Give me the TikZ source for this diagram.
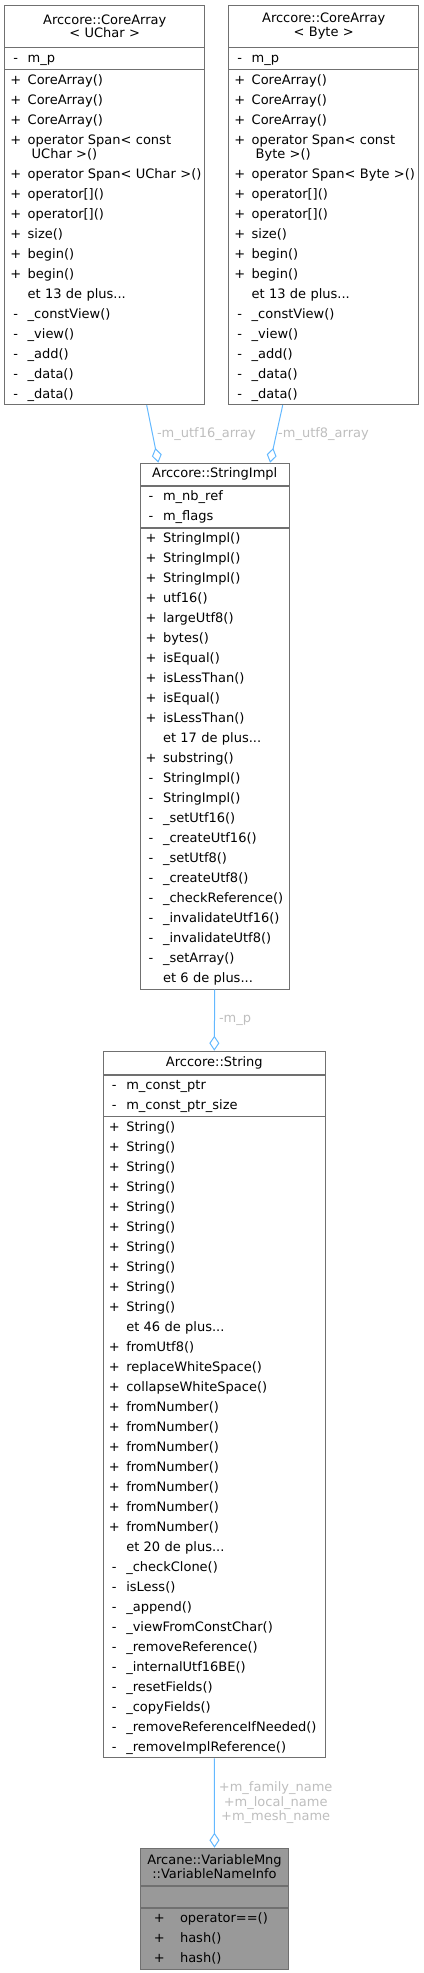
\documentclass[tikz,border=0pt]{standalone}
\usepackage{fontspec}
\setmainfont{DejaVu Sans}
\usetikzlibrary{arrows.meta,positioning}
\definecolor{edgeblue}{HTML}{63B8FF}
\definecolor{lblgray}{HTML}{BEBEBE}
\definecolor{linegray}{HTML}{707070}
\definecolor{fillgray}{HTML}{999999}
\setlength{\parindent}{0pt}
\hfuzz=20pt \hbadness=10000
% one member line: sign column, then name
\newcommand{\mrow}[2]{\makebox[17.25pt][l]{\hspace*{4.5pt}\makebox[7.5pt]{#1}}\mbox{#2}\strut}
\newcommand{\mtab}[2]{\makebox[29.5pt][l]{\hspace*{10.5pt}\makebox[7pt]{#1}}\mbox{#2}\strut}
\newcommand{\mcont}[1]{\hspace*{20.25pt}\mbox{#1}\strut}

\begin{document}
\begin{tikzpicture}[
  x=0.75pt, y=-0.75pt,
  hd/.style={draw=linegray, line width=0.6pt, fill=white, inner xsep=0pt,
    inner ysep=0pt, align=center, minimum height=#1, font=\fontsize{9.75}{10}\selectfont},
  sec/.style={draw=linegray, line width=0.6pt, fill=white, inner xsep=0pt,
    inner ysep=0.4pt, align=left, font=\fontsize{9.75}{15}\selectfont},
  edge/.style={draw=edgeblue, line width=0.75pt,
    -{Diamond[open, length=11.25pt, width=7.5pt]}},
  lbl/.style={text=lblgray, font=\fontsize{9.75}{10.9}\selectfont, align=center,
    inner sep=3pt}
]
\useasboundingbox (0,0) rectangle (424,1973);

% CoreArray< UChar >
\node[hd=31.5pt, text width=150pt, anchor=north] (uT) at (104.7,4.7)
  {Arccore::CoreArray\\< UChar >};
\node[sec, text width=150pt, below=0pt of uT] (uA) {\mrow{-}{m\_p}};
\node[sec, text width=150pt, below=0pt of uA] (uM) {%
  \mrow{+}{CoreArray()}\\ \mrow{+}{CoreArray()}\\ \mrow{+}{CoreArray()}\\
  \mrow{+}{operator Span< const}\\[-4.5pt] \mcont{UChar >()}\\
  \mrow{+}{operator Span< UChar >()}\\ \mrow{+}{operator[]()}\\ \mrow{+}{operator[]()}\\
  \mrow{+}{size()}\\ \mrow{+}{begin()}\\ \mrow{+}{begin()}\\ \mrow{}{et 13 de plus...}\\
  \mrow{-}{\_constView()}\\ \mrow{-}{\_view()}\\ \mrow{-}{\_add()}\\
  \mrow{-}{\_data()}\\ \mrow{-}{\_data()}};

% CoreArray< Byte >
\node[hd=31.5pt, text width=142.5pt, anchor=north] (bT) at (323.7,4.7)
  {Arccore::CoreArray\\< Byte >};
\node[sec, text width=142.5pt, below=0pt of bT] (bA) {\mrow{-}{m\_p}};
\node[sec, text width=142.5pt, below=0pt of bA] (bM) {%
  \mrow{+}{CoreArray()}\\ \mrow{+}{CoreArray()}\\ \mrow{+}{CoreArray()}\\
  \mrow{+}{operator Span< const}\\[-4.5pt] \mcont{Byte >()}\\
  \mrow{+}{operator Span< Byte >()}\\ \mrow{+}{operator[]()}\\ \mrow{+}{operator[]()}\\
  \mrow{+}{size()}\\ \mrow{+}{begin()}\\ \mrow{+}{begin()}\\ \mrow{}{et 13 de plus...}\\
  \mrow{-}{\_constView()}\\ \mrow{-}{\_view()}\\ \mrow{-}{\_add()}\\
  \mrow{-}{\_data()}\\ \mrow{-}{\_data()}};

% StringImpl
\node[hd=16.7pt, text width=112pt, anchor=north] (iT) at (214.7,462.7)
  {Arccore::StringImpl};
\node[sec, text width=112pt, below=0pt of iT] (iA)
  {\mrow{-}{m\_nb\_ref}\\ \mrow{-}{m\_flags}};
\node[sec, text width=112pt, below=0pt of iA] (iM) {%
  \mrow{+}{StringImpl()}\\ \mrow{+}{StringImpl()}\\ \mrow{+}{StringImpl()}\\
  \mrow{+}{utf16()}\\ \mrow{+}{largeUtf8()}\\ \mrow{+}{bytes()}\\
  \mrow{+}{isEqual()}\\ \mrow{+}{isLessThan()}\\ \mrow{+}{isEqual()}\\
  \mrow{+}{isLessThan()}\\ \mrow{}{et 17 de plus...}\\ \mrow{+}{substring()}\\
  \mrow{-}{StringImpl()}\\ \mrow{-}{StringImpl()}\\ \mrow{-}{\_setUtf16()}\\
  \mrow{-}{\_createUtf16()}\\ \mrow{-}{\_setUtf8()}\\ \mrow{-}{\_createUtf8()}\\
  \mrow{-}{\_checkReference()}\\ \mrow{-}{\_invalidateUtf16()}\\
  \mrow{-}{\_invalidateUtf8()}\\ \mrow{-}{\_setArray()}\\ \mrow{}{et 6 de plus...}};

% String
\node[hd=17.25pt, text width=166.5pt, anchor=north] (sT) at (214.3,1050.7)
  {Arccore::String};
\node[sec, text width=166.5pt, below=0pt of sT] (sA)
  {\mrow{-}{m\_const\_ptr}\\ \mrow{-}{m\_const\_ptr\_size}};
\node[sec, text width=166.5pt, below=0pt of sA] (sM) {%
  \mrow{+}{String()}\\ \mrow{+}{String()}\\ \mrow{+}{String()}\\ \mrow{+}{String()}\\
  \mrow{+}{String()}\\ \mrow{+}{String()}\\ \mrow{+}{String()}\\ \mrow{+}{String()}\\
  \mrow{+}{String()}\\ \mrow{+}{String()}\\ \mrow{}{et 46 de plus...}\\
  \mrow{+}{fromUtf8()}\\ \mrow{+}{replaceWhiteSpace()}\\ \mrow{+}{collapseWhiteSpace()}\\
  \mrow{+}{fromNumber()}\\ \mrow{+}{fromNumber()}\\ \mrow{+}{fromNumber()}\\
  \mrow{+}{fromNumber()}\\ \mrow{+}{fromNumber()}\\ \mrow{+}{fromNumber()}\\
  \mrow{+}{fromNumber()}\\ \mrow{}{et 20 de plus...}\\
  \mrow{-}{\_checkClone()}\\ \mrow{-}{isLess()}\\ \mrow{-}{\_append()}\\
  \mrow{-}{\_viewFromConstChar()}\\ \mrow{-}{\_removeReference()}\\
  \mrow{-}{\_internalUtf16BE()}\\ \mrow{-}{\_resetFields()}\\ \mrow{-}{\_copyFields()}\\
  \mrow{-}{\_removeReferenceIfNeeded()}\\ \mrow{-}{\_removeImplReference()}};

% VariableNameInfo
\node[hd=28pt, text width=110.7pt, fill=fillgray, anchor=north] (aT) at (214.5,1847.7)
  {Arcane::VariableMng\\::VariableNameInfo};
\node[sec, text width=110.7pt, fill=fillgray, below=0pt of aT] (aA) {\strut};
\node[sec, text width=110.7pt, fill=fillgray, below=0pt of aA] (aM)
  {\mtab{+}{operator==()}\\ \mtab{+}{hash()}\\ \mtab{+}{hash()}};

% connectors
\draw[edge] ([xshift=31.5pt]uM.south) -- node[lbl, right] (lu) {-m\_utf16\_array}
  ([xshift=-42.3pt]iT.north);
\draw[edge] ([xshift=-30.75pt]bM.south) -- node[lbl, right, inner xsep=1pt] (lb) {-m\_utf8\_array}
  ([xshift=41.5pt]iT.north);
\draw[edge] (iM.south) -- node[lbl, right] (lp) {-m\_p} (sT.north);
\draw[edge] (sM.south) -- node[lbl, right] (ln)
  {+m\_family\_name\\+m\_local\_name\\+m\_mesh\_name} (aT.north);
\end{tikzpicture}
\end{document}
